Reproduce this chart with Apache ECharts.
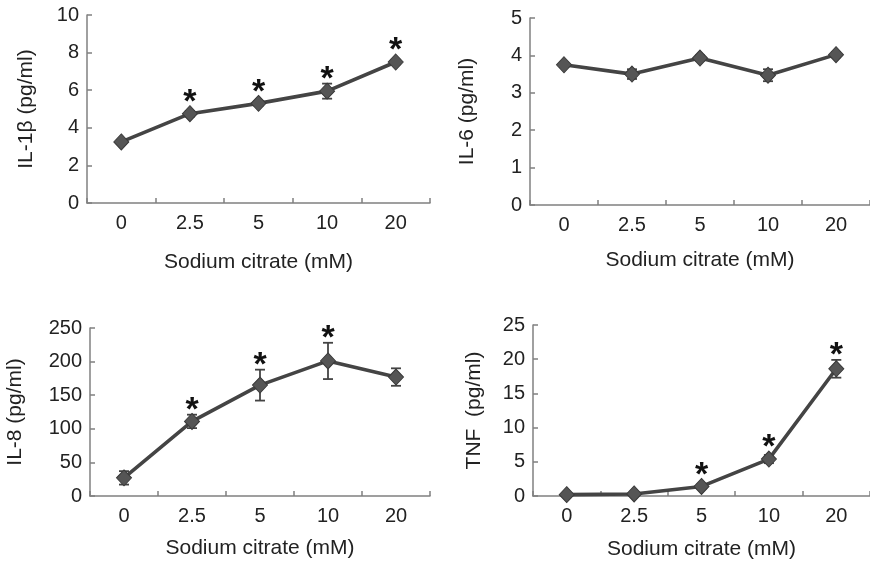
<!DOCTYPE html>
<html><head><meta charset="utf-8">
<script src="https://cdn.jsdelivr.net/npm/echarts@6/dist/echarts.min.js"></script>
<style>html,body{margin:0;padding:0;background:#fff}#c{width:870px;height:562px}</style>
</head><body><div id="c"></div>
<script>
const categories = ['0', '2.5', '5', '10', '20'];
const xTitle = 'Sodium citrate (mM)';

const il1b = [3.25, 4.75, 5.3, 5.95, 7.5];
const il1bErr = [0.1, 0.15, 0.12, 0.4, 0.12];
const il1bSig = [0, 1, 1, 1, 1];

const il6 = [3.75, 3.5, 3.93, 3.47, 4.02];
const il6Err = [0.06, 0.13, 0.07, 0.16, 0.07];
const il6Sig = [0, 0, 0, 0, 0];

const il8 = [27, 111, 165, 201, 177];
const il8Err = [10, 10, 23, 27, 13];
const il8Sig = [0, 1, 1, 1, 0];

const tnf = [0.2, 0.3, 1.4, 5.4, 18.6];
const tnfErr = [0.1, 0.1, 0.3, 0.6, 1.3];
const tnfSig = [0, 0, 1, 1, 1];

const panels = [
  {name: 'IL-1β (pg/ml)', vals: il1b, err: il1bErr, sig: il1bSig, max: 10, interval: 2, gap: 50, xgap: 49,
   grid: {left: 87, top: 15, width: 343, height: 188}},
  {name: 'IL-6 (pg/ml)', vals: il6, err: il6Err, sig: il6Sig, max: 5, interval: 1, gap: 52, xgap: 45,
   grid: {left: 530, top: 18, width: 345, height: 187}},
  {name: 'IL-8 (pg/ml)', vals: il8, err: il8Err, sig: il8Sig, max: 250, interval: 50, gap: 64, xgap: 42,
   grid: {left: 90, top: 328, width: 340, height: 168}},
  {name: 'TNF  (pg/ml)', vals: tnf, err: tnfErr, sig: tnfSig, max: 25, interval: 5, gap: 48, xgap: 43,
   grid: {left: 533, top: 325, width: 343, height: 171}}
];

const FONT = 'Liberation Sans, Arial, sans-serif';
const axisColor = '#808080';
const textColor = '#222';
const lineColor = '#444444';

const grids = [], xAxes = [], yAxes = [], series = [];
panels.forEach((p, i) => {
  grids.push(Object.assign({containLabel: false}, p.grid));
  xAxes.push({
    type: 'category', gridIndex: i, data: categories, boundaryGap: true,
    name: xTitle, nameLocation: 'middle', nameGap: p.xgap,
    nameTextStyle: {fontFamily: FONT, fontSize: 21, color: textColor},
    axisLine: {lineStyle: {color: axisColor, width: 1.5}},
    axisTick: {show: true, inside: true, length: 5, lineStyle: {color: axisColor, width: 1.5}},
    axisLabel: {fontFamily: FONT, fontSize: 20, color: textColor, margin: 10}
  });
  yAxes.push({
    type: 'value', gridIndex: i, min: 0, max: p.max, interval: p.interval,
    name: p.name, nameLocation: 'middle', nameGap: p.gap,
    nameTextStyle: {fontFamily: FONT, fontSize: 21, color: textColor},
    axisLine: {show: true, lineStyle: {color: axisColor, width: 1.5}},
    axisTick: {show: true, inside: true, length: 5, lineStyle: {color: axisColor, width: 1.5}},
    splitLine: {show: false},
    axisLabel: {fontFamily: FONT, fontSize: 20, color: textColor, margin: 8}
  });
  series.push({
    type: 'custom', xAxisIndex: i, yAxisIndex: i, z: 3,
    data: p.vals.map((v, k) => [k, v, p.err[k], p.sig[k]]),
    renderItem: function (params, api) {
      const k = api.value(0), v = api.value(1), e = api.value(2), s = api.value(3);
      const top = api.coord([k, v + e]);
      const bot = api.coord([k, v - e]);
      const mid = api.coord([k, v]);
      const cap = 5;
      const st = {stroke: lineColor, lineWidth: 1.8};
      const children = [
        {type: 'line', shape: {x1: top[0], y1: top[1], x2: bot[0], y2: bot[1]}, style: st},
        {type: 'line', shape: {x1: top[0] - cap, y1: top[1], x2: top[0] + cap, y2: top[1]}, style: st},
        {type: 'line', shape: {x1: bot[0] - cap, y1: bot[1], x2: bot[0] + cap, y2: bot[1]}, style: st}
      ];
      if (s) {
        const target = Math.min(top[1] - 15, mid[1] - 22);
        children.push({type: 'text', style: {text: '*', x: mid[0], y: target + 28,
          fontFamily: FONT, fontSize: 34, fontWeight: 'bold', fill: '#111',
          align: 'center', verticalAlign: 'bottom'}});
      }
      return {type: 'group', children: children};
    }
  });
  series.push({
    type: 'line', xAxisIndex: i, yAxisIndex: i, data: p.vals, z: 4,
    symbol: 'diamond', symbolSize: [15, 16],
    lineStyle: {color: lineColor, width: 3.6},
    itemStyle: {color: '#555555', borderColor: '#3a3a3a', borderWidth: 1},
    animation: false
  });
});

const chart = echarts.init(document.getElementById('c'), null, {renderer: 'canvas'});
chart.setOption({
  backgroundColor: '#fff', animation: false,
  grid: grids, xAxis: xAxes, yAxis: yAxes, series: series
});
</script></body></html>
